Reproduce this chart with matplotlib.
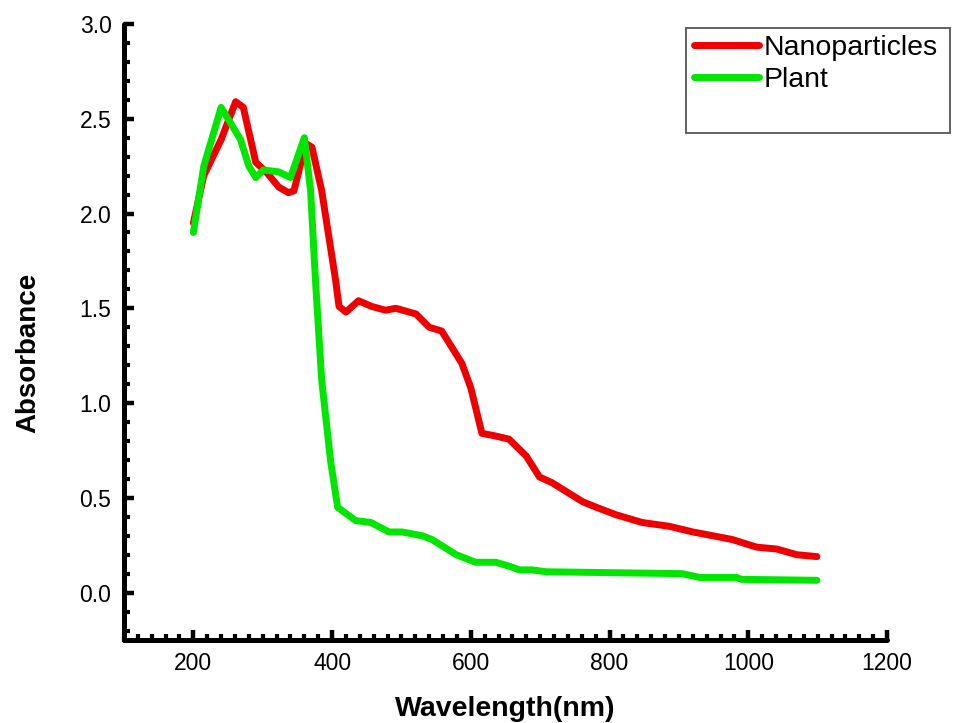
import matplotlib.pyplot as plt
from matplotlib.ticker import MultipleLocator
from matplotlib.patches import Rectangle

plt.rcParams['font.family'] = ['Liberation Sans', 'DejaVu Sans']

# Nanoparticles (red)
wl_nano = [200, 215, 240, 261, 272, 290, 305, 323, 337, 345, 362, 371, 385, 405, 410, 420,
           438, 457, 477, 492, 521, 540, 558, 587, 600, 616, 631, 655, 680, 699, 717,
           761, 781, 810, 847, 886, 920, 949, 977, 1012, 1041, 1070, 1099]
abs_nano = [1.95, 2.2, 2.39, 2.59, 2.56, 2.27, 2.22, 2.14, 2.11, 2.12, 2.37, 2.35, 2.12, 1.65, 1.51, 1.48,
            1.54, 1.51, 1.49, 1.50, 1.47, 1.40, 1.38, 1.21, 1.08, 0.84, 0.83, 0.81, 0.72, 0.61, 0.58,
            0.48, 0.45, 0.41, 0.37, 0.35, 0.32, 0.30, 0.28, 0.24, 0.23, 0.20, 0.19]

# Plant (green)
wl_plant = [200, 215, 240, 268, 280, 290, 301, 323, 340, 360, 369, 376, 385, 398, 408, 434,
            456, 482, 501, 530, 544, 579, 607, 636, 655, 670, 688, 709, 905, 930, 983,
            990, 1099]
abs_plant = [1.9, 2.25, 2.56, 2.39, 2.25, 2.19, 2.23, 2.22, 2.19, 2.40, 2.12, 1.65, 1.12, 0.69, 0.45, 0.38,
             0.37, 0.32, 0.32, 0.30, 0.28, 0.20, 0.16, 0.16, 0.14, 0.12, 0.12, 0.11, 0.10, 0.08, 0.08,
             0.07, 0.065]

fig = plt.figure(figsize=(9.58, 7.23), dpi=100)
ax = fig.add_axes([124/958, 1-640/723, (887-124)/958, (640-24)/723])

ax.plot(wl_nano, abs_nano, color='#ee0000', lw=5, solid_joinstyle='round', solid_capstyle='round',
        label='Nanoparticles')
ax.plot(wl_plant, abs_plant, color='#00e600', lw=5, solid_joinstyle='round', solid_capstyle='round',
        label='Plant')

ax.set_xlim(100, 1200)
ax.set_ylim(-0.25, 3.0)
ax.xaxis.set_minor_locator(MultipleLocator(20))
ax.yaxis.set_minor_locator(MultipleLocator(0.1))
ax.set_xticks([200, 400, 600, 800, 1000, 1200])
ax.set_yticks([0.0, 0.5, 1.0, 1.5, 2.0, 2.5, 3.0])

for s in ['top', 'right']:
    ax.spines[s].set_visible(False)
for s in ['left', 'bottom']:
    ax.spines[s].set_linewidth(3.6)
    ax.spines[s].set_capstyle('round')

ax.tick_params(which='major', direction='in', length=7, width=3.2, labelsize=16.5, pad=9)
ax.tick_params(which='minor', direction='in', length=4, width=3.0)

ax.set_xlabel('Wavelength(nm)', fontsize=20.5, fontweight='bold', va='top')
ax.xaxis.set_label_coords(0.5, (640-696)/616)
ax.set_ylabel('Absorbance', fontsize=20, fontweight='bold', va='center')
ax.yaxis.set_label_coords((28-124)/763, (640-353)/616)

# legend box sticks out past the axes on the right
fig.patches.append(Rectangle((686/958, 1-133/723), (950-686)/958, (133-28)/723,
                             transform=fig.transFigure, fill=False, edgecolor='#555555', lw=1.3))
fig.legend(loc='upper left', bbox_to_anchor=(694/958, 1-35/723), frameon=False, fontsize=20.5,
           handlelength=2.3, handletextpad=0.15, labelspacing=0.22, borderaxespad=0,
           borderpad=0)

fig.savefig('out.png', dpi=100)
